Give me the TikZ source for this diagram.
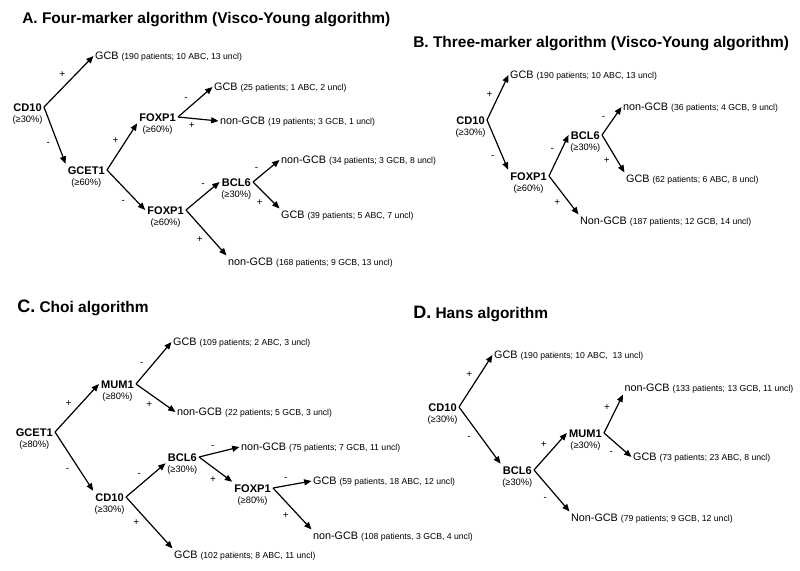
\documentclass[tikz,border=0pt]{standalone}
\usepackage{fontspec}
\setmainfont{Liberation Sans}
\usetikzlibrary{arrows.meta,positioning}
\newcommand{\tally}[1]{{\fontsize{6.5}{8}\selectfont (#1)}}
\newcommand{\bigletter}[1]{{\fontsize{13.5}{14}\selectfont #1}}

\begin{document}
\begin{tikzpicture}[x=0.75pt,y=-0.75pt]
	\tikzset{
		marker/.style={anchor=east,inner sep=1.5pt,text height=6pt,text depth=0pt,
			font=\bfseries\fontsize{8.3}{10}\selectfont},
		thr/.style={below=1.5pt of #1,inner sep=0pt,text height=5.2pt,text depth=1.5pt,
			font=\fontsize{7}{8}\selectfont},
		leaf/.style={anchor=west,inner sep=1pt,text height=6pt,text depth=1.4pt,
			font=\fontsize{8.1}{10}\selectfont},
		sign/.style={inner sep=2.2pt,text height=4.8pt,text depth=0pt,text width=4.5pt,
			align=center,font=\fontsize{7.5}{8}\selectfont},
		sgnup/.style={sign,auto},
		sgndn/.style={sign,auto,swap},
		branch/.style={-{Triangle[length=5.5pt,width=4.5pt]},line width=0.9pt},
		paneltitle/.style={anchor=base west,inner sep=0pt,font=\bfseries\fontsize{11.6}{14}\selectfont}
	}
	\useasboundingbox (0,0) rectangle (800,571);
	% A. four markers
	\node[paneltitle] (titleA) at (22,23.5) {A. Four-marker algorithm (Visco-Young algorithm)};
	\node[marker] (cdA) at (44,107) {CD10};
	\node[thr=cdA] (cdAt) {(≥30\%)};
	\node[marker] (gcetA) at (107,170) {GCET1};
	\node[thr=gcetA] (gcetAt) {(≥60\%)};
	\node[marker] (foxA) at (178,117) {FOXP1};
	\node[thr=foxA] (foxAt) {(≥60\%)};
	\node[marker] (foxAA) at (186,210) {FOXP1};
	\node[thr=foxAA] (foxAAt) {(≥60\%)};
	\node[marker] (bclA) at (253,182) {BCL6};
	\node[thr=bclA] (bclAt) {(≥30\%)};
	\node[leaf] (a1) at (93.5,56) {GCB \tally{190 patients; 10 ABC, 13 uncl}};
	\node[leaf] (a2) at (212.5,87) {GCB \tally{25 patients; 1 ABC, 2 uncl}};
	\node[leaf] (a3) at (218.5,121) {non-GCB \tally{19 patients; 3 GCB, 1 uncl}};
	\node[leaf] (a4) at (279.5,160) {non-GCB \tally{34 patients; 3 GCB, 8 uncl}};
	\node[leaf] (a5) at (279.5,215) {GCB \tally{39 patients; 5 ABC, 7 uncl}};
	\node[leaf] (a6) at (226.5,262) {non-GCB \tally{168 patients; 9 GCB, 13 uncl}};
	\draw[branch] (cdA.east) -- node[sgnup] {+} (a1.west);
	\draw[branch] (cdA.east) -- node[sgndn,pos=0.5] {-} (gcetA.north west);
	\draw[branch] (gcetA.east) -- node[sgnup] {+} (foxA.south west);
	\draw[branch] (gcetA.east) -- node[sgndn,pos=0.6] {-} (foxAA.west);
	\draw[branch] (foxA.east) -- node[sgnup,pos=0.42] {-} (a2.west);
	\draw[branch] (foxA.east) -- node[sgndn] {+} (a3.west);
	\draw[branch] (foxAA.east) -- node[sgnup,pos=0.7] {-} (bclA.west);
	\draw[branch] (foxAA.east) -- node[sgndn] {+} (a6.north west);
	\draw[branch] (bclA.east) -- node[sgnup,pos=0.38] {-} (a4.west);
	\draw[branch] (bclA.east) -- node[sgndn] {+} (a5.north west);
	% B. three markers
	\node[paneltitle] (titleB) at (413,47.5) {B. Three-marker algorithm (Visco-Young algorithm)};
	\node[marker] (cdB) at (487,120) {CD10};
	\node[thr=cdB] (cdBt) {(≥30\%)};
	\node[marker] (foxB) at (549,176) {FOXP1};
	\node[thr=foxB] (foxBt) {(≥60\%)};
	\node[marker] (bclB) at (602,135) {BCL6};
	\node[thr=bclB] (bclBt) {(≥30\%)};
	\node[leaf] (b1) at (508.5,75) {GCB \tally{190 patients; 10 ABC, 13 uncl}};
	\node[leaf] (b2) at (621.5,107) {non-GCB \tally{36 patients; 4 GCB, 9 uncl}};
	\node[leaf] (b3) at (624.5,179) {GCB \tally{62 patients; 6 ABC, 8 uncl}};
	\node[leaf] (b4) at (578.5,221) {Non-GCB \tally{187 patients; 12 GCB, 14 uncl}};
	\draw[branch] (cdB.east) -- node[sgnup,pos=0.42] {+} (b1.west);
	\draw[branch] (cdB.east) -- node[sgndn,pos=0.58] {-} (foxB.north west);
	\draw[branch] (foxB.east) -- node[sgnup] {-} (bclB.west);
	\draw[branch] (foxB.east) -- node[sgndn] {+} (b4.north west);
	\draw[branch] (bclB.east) -- node[sgnup,pos=0.41] {-} (b2.west);
	\draw[branch] (bclB.east) -- node[sgndn] {+} (b3.north west);
	% C. Choi
	\node[paneltitle] (titleC) at (17,312.5) {\bigletter{C.} Choi algorithm};
	\node[marker] (gcetC) at (55,432) {GCET1};
	\node[thr=gcetC] (gcetCt) {(≥80\%)};
	\node[marker] (mumC) at (136,384) {MUM1};
	\node[thr=mumC] (mumCt) {(≥80\%)};
	\node[marker] (cdC) at (126,497) {CD10};
	\node[thr=cdC] (cdCt) {(≥30\%)};
	\node[marker] (bclC) at (199,457) {BCL6};
	\node[thr=bclC] (bclCt) {(≥30\%)};
	\node[marker] (foxC) at (273,488) {FOXP1};
	\node[thr=foxC] (foxCt) {(≥80\%)};
	\node[leaf] (c1) at (171.5,342) {GCB \tally{109 patients; 2 ABC, 3 uncl}};
	\node[leaf] (c2) at (175.5,412) {non-GCB \tally{22 patients; 5 GCB, 3 uncl}};
	\node[leaf] (c3) at (239.5,447) {non-GCB \tally{75 patients; 7 GCB, 11 uncl}};
	\node[leaf] (c4) at (311.5,481) {GCB \tally{59 patients, 18 ABC, 12 uncl}};
	\node[leaf] (c5) at (311.5,536) {non-GCB \tally{108 patients, 3 GCB, 4 uncl}};
	\node[leaf] (c6) at (172.5,555) {GCB \tally{102 patients; 8 ABC, 11 uncl}};
	\draw[branch] (gcetC.east) -- node[sgnup,pos=0.46] {+} (mumC.west);
	\draw[branch] (gcetC.east) -- node[sgndn] {-} (cdC.north west);
	\draw[branch] (mumC.east) -- node[sgnup,pos=0.35] {-} (c1.west);
	\draw[branch] (mumC.east) -- node[sgndn] {+} (c2.west);
	\draw[branch] (cdC.east) -- node[sgnup] {-} (bclC.south west);
	\draw[branch] (cdC.east) -- node[sgndn,pos=0.36] {+} (c6.north west);
	\draw[branch] (bclC.east) -- node[sgnup] {-} (c3.west);
	\draw[branch] (bclC.east) -- node[sgndn,pos=0.62] {+} (foxC.north west);
	\draw[branch] (foxC.east) -- node[sgnup] {-} (c4.west);
	\draw[branch] (foxC.east) -- node[sgndn] {+} (c5.north west);
	% D. Hans
	\node[paneltitle] (titleD) at (413,318.5) {\bigletter{D.} Hans algorithm};
	\node[marker] (cdD) at (459,407) {CD10};
	\node[thr=cdD] (cdDt) {(≥30\%)};
	\node[marker] (bclD) at (534,470) {BCL6};
	\node[thr=bclD] (bclDt) {(≥30\%)};
	\node[marker] (mumD) at (604,433) {MUM1};
	\node[thr=mumD] (mumDt) {(≥30\%)};
	\node[leaf] (d1) at (492.5,355) {GCB \tally{190 patients; 10 ABC,\ \ 13 uncl}};
	\node[leaf] (d2) at (623,388) {non-GCB \tally{133 patients; 13 GCB, 11 uncl}};
	\node[leaf] (d3) at (631.5,457) {GCB \tally{73 patients; 23 ABC, 8 uncl}};
	\node[leaf] (d4) at (569.5,518) {Non-GCB \tally{79 patients; 9 GCB, 12 uncl}};
	\draw[branch] (cdD.east) -- node[sgnup] {+} (d1.west);
	\draw[branch] (cdD.east) -- node[sgndn,pos=0.4] {-} (bclD.north west);
	\draw[branch] (bclD.east) -- node[sgnup] {+} (mumD.west);
	\draw[branch] (bclD.east) -- node[sgndn] {-} (d4.north west);
	\draw[branch] (mumD.east) -- node[sgnup] {+} (d2.south west);
	\draw[branch] (mumD.east) -- node[sgndn] {-} (d3.west);
\end{tikzpicture}
\end{document}
